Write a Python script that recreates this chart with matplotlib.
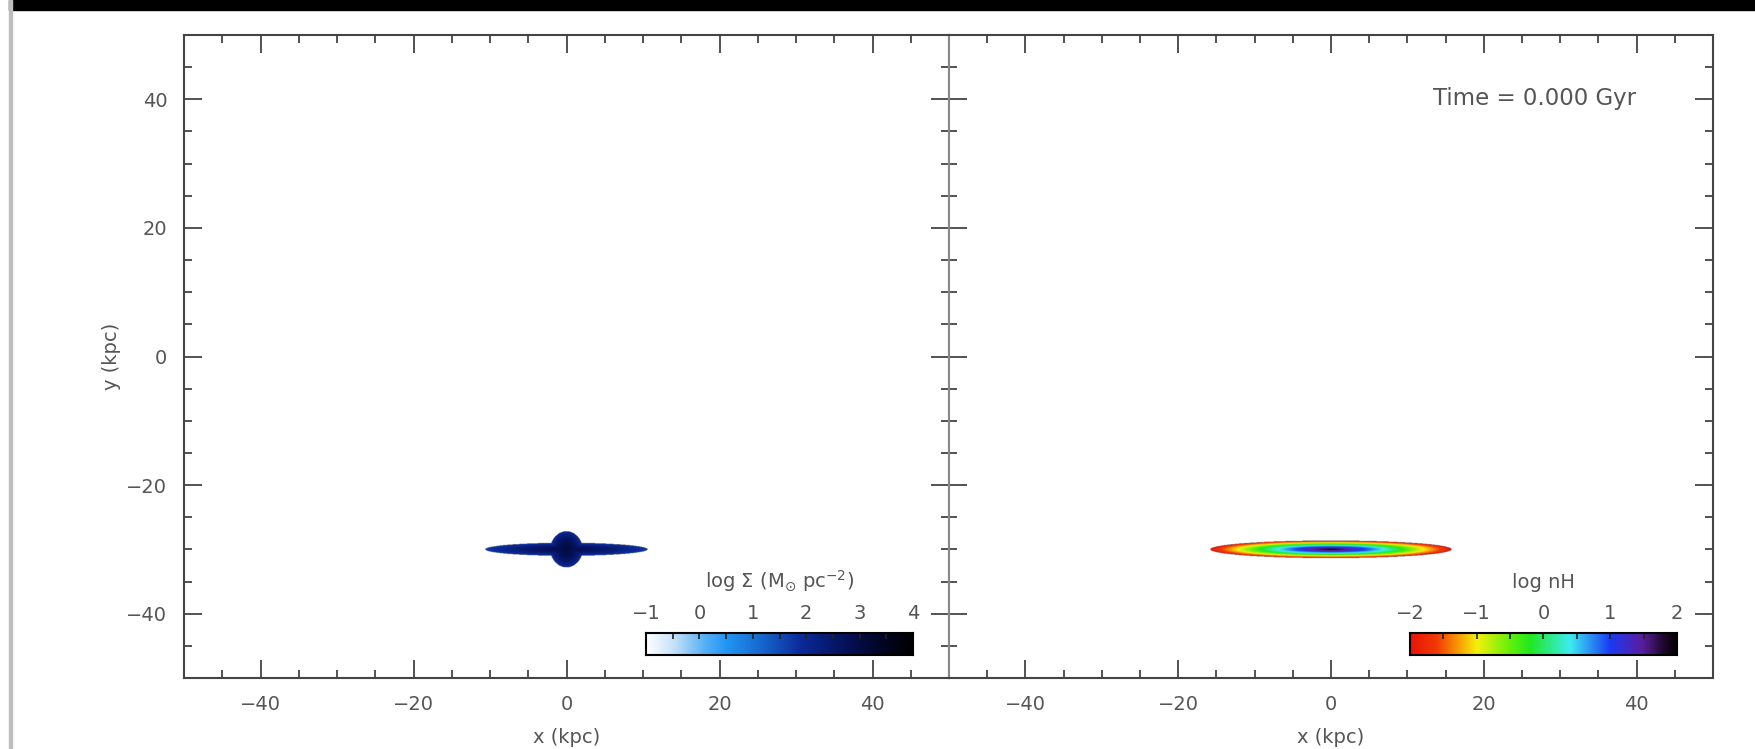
'''
Edge-on galaxy snapshot : stellar surface density and gas density
'''
import numpy as np
import matplotlib
matplotlib.use('Agg')
import matplotlib.pyplot as plt
from matplotlib.colors import LinearSegmentedColormap
from matplotlib.patches import Rectangle
from matplotlib.ticker import MultipleLocator

####################################################################
############################ values ################################
####################################################################
xlim = [-50, 50]
ylim = [-50, 50]
major_ticks = [-40, -20, 0, 20, 40]
time_label = 'Time = 0.000 Gyr'

# galaxy centre (kpc)
gal_x0 = 0.0
gal_y0 = -30.0

# stars : thin disk + bulge, log Sigma (Msun pc^-2)
star_disk_radius = 10.6
star_disk_halfz = 1.0
star_disk_logsig = [2.9, 1.7]      # centre, edge
star_bulge_rx = 2.1
star_bulge_ry = 2.8
star_bulge_logsig = [3.0, 1.9]     # centre, edge
star_range = [-1, 4]
star_cb_ticks = [-1, 0, 1, 2, 3, 4]

# gas : ellipsoidal disk, log nH
gas_radius = 15.8
gas_halfz = 1.35
gas_lognh = [1.9, -2.0]            # centre, edge
gas_range = [-2, 2]
gas_cb_ticks = [-2, -1, 0, 1, 2]

# colour tables
star_cmap = LinearSegmentedColormap.from_list('stars', [
    (0.00, '#ffffff'), (0.10, '#c9e2f9'), (0.22, '#55b0f4'),
    (0.30, '#2196f3'), (0.45, '#1560c8'), (0.58, '#0b2a9a'),
    (0.72, '#061464'), (0.86, '#02072c'), (1.00, '#000000')])
gas_cmap = LinearSegmentedColormap.from_list('gas', [
    (0.00, '#e8140a'), (0.10, '#f23a05'), (0.18, '#fa9a05'),
    (0.25, '#f5f00a'), (0.38, '#5ef00a'), (0.45, '#20e820'),
    (0.60, '#3cecf0'), (0.75, '#1a3af5'), (0.87, '#5a1ea0'),
    (0.95, '#200830'), (1.00, '#000000')])

txt_col = '#555555'
fs = 14

####################################################################
############################ maps ##################################
####################################################################
gx = np.linspace(xlim[0], xlim[1], 1601)
gy = np.linspace(ylim[0], ylim[1], 1601)
X, Y = np.meshgrid(gx, gy)
dx = X - gal_x0
dy = Y - gal_y0

rd = np.sqrt((dx/star_disk_radius)**2 + (dy/star_disk_halfz)**2)
rb = np.sqrt((dx/star_bulge_rx)**2 + (dy/star_bulge_ry)**2)
sig_d = star_disk_logsig[0] + (star_disk_logsig[1]-star_disk_logsig[0])*rd**1.5
sig_b = star_bulge_logsig[0] + (star_bulge_logsig[1]-star_bulge_logsig[0])*rb**2
sig_d[rd > 1] = np.nan
sig_b[rb > 1] = np.nan
stars = np.fmax(sig_d, sig_b)

rg = np.sqrt((dx/gas_radius)**2 + (dy/gas_halfz)**2)
gas = gas_lognh[0] + (gas_lognh[1]-gas_lognh[0])*rg**1.15
gas[rg > 1] = np.nan

####################################################################
############################ figure ################################
####################################################################
fig = plt.figure(figsize=(17.56, 7.49), dpi=100)
W, H = 1756., 749.

# video frame decoration
fig.patches.append(Rectangle((9/W, 1-10/H), 1, 10/H, transform=fig.transFigure,
                             color='black', zorder=0))
fig.patches.append(Rectangle((9/W, 0), 3/W, 1, transform=fig.transFigure,
                             color='#bdbdbd', zorder=0))

ax1 = fig.add_axes([184/W, 1-678/H, 765/W, 643/H])
ax2 = fig.add_axes([949/W, 1-678/H, 764/W, 643/H])

ext = [xlim[0], xlim[1], ylim[0], ylim[1]]
ax1.imshow(stars, extent=ext, origin='lower', cmap=star_cmap, aspect='auto',
           vmin=star_range[0], vmax=star_range[1], interpolation='bilinear')
ax2.imshow(gas, extent=ext, origin='lower', cmap=gas_cmap, aspect='auto',
           vmin=gas_range[0], vmax=gas_range[1], interpolation='bilinear')

for ax in [ax1, ax2]:
    ax.set_xlim(xlim)
    ax.set_ylim(ylim)
    ax.set_xticks(major_ticks)
    ax.set_yticks(major_ticks)
    ax.xaxis.set_minor_locator(MultipleLocator(5))
    ax.yaxis.set_minor_locator(MultipleLocator(5))
    ax.tick_params(which='both', direction='in', top=True, right=True,
                   color='#444444', labelcolor=txt_col, labelsize=fs)
    ax.tick_params(which='major', length=13, width=1.3, pad=12)
    ax.tick_params(which='minor', length=6, width=1.3)
    for s in ax.spines.values():
        s.set_color('#444444')
        s.set_linewidth(1.5)
    ax.set_xlabel('x (kpc)', color=txt_col, fontsize=fs, labelpad=10)
ax2.tick_params(axis='y', which='both', labelleft=False)
ax2.spines['left'].set_color('#888888')
ax1.spines['right'].set_color('#888888')
ax1.set_ylabel('y (kpc)', color=txt_col, fontsize=fs, labelpad=4)

ax2.text(26.6, 40.1, time_label, ha='center', va='center', color=txt_col,
         fontsize=16.5)

# colour bars
def cbar(im_cmap, rng, ticks, title, x0, x1):
    cax = fig.add_axes([x0/W, 1-655/H, (x1-x0)/W, 22/H])
    grad = np.linspace(rng[0], rng[1], 512)[None, :]
    cax.imshow(grad, extent=[rng[0], rng[1], 0, 1], aspect='auto',
               cmap=im_cmap, vmin=rng[0], vmax=rng[1])
    cax.set_xlim(rng)
    cax.set_yticks([])
    cax.set_xticks(ticks)
    cax.xaxis.set_minor_locator(MultipleLocator(0.5))
    cax.xaxis.set_ticks_position('top')
    cax.xaxis.set_label_position('top')
    cax.tick_params(which='both', direction='in', length=4, width=1.2,
                    color='#222222', labelcolor=txt_col, labelsize=fs, pad=7)
    for s in cax.spines.values():
        s.set_linewidth(1.5)
    cax.set_xlabel(title, color=txt_col, fontsize=fs, labelpad=12)
    return cax

cbar(star_cmap, star_range, star_cb_ticks, r'log $\Sigma$ (M$_{\odot}$ pc$^{-2}$)', 646, 913)
cbar(gas_cmap, gas_range, gas_cb_ticks, 'log nH', 1410, 1677)

fig.savefig('out.png', dpi=100)
